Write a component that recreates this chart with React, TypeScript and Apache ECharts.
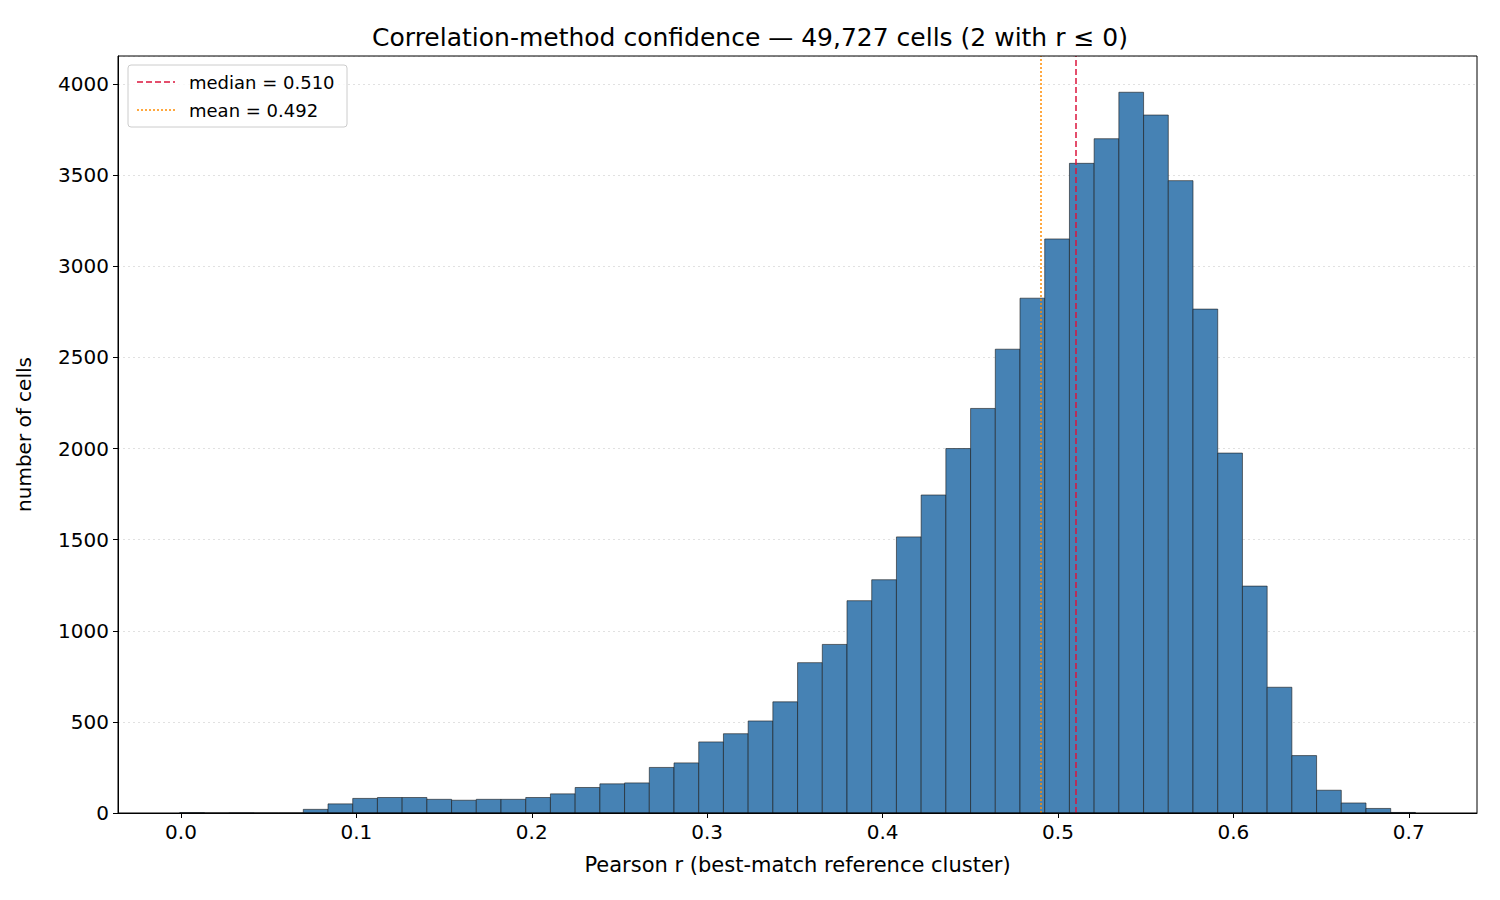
import React, { useEffect, useRef } from 'react';
import * as echarts from 'echarts';

const binStart = -0.0007;
const binWidth = 0.01409;
const counts = [
  2, 0, 1, 0, 0, 20, 50, 80, 85, 85,
  75, 70, 75, 75, 85, 105, 140, 160, 165, 250,
  275, 390, 435, 505, 610, 825, 925, 1165, 1280, 1515,
  1745, 2000, 2220, 2545, 2825, 3150, 3565, 3700, 3955, 3830,
  3470, 2765, 1975, 1245, 690, 315, 125, 55, 25, 3,
];
const xTicks = [0, 0.1, 0.2, 0.3, 0.4, 0.5, 0.6, 0.7];
const medianValue = 0.5102;
const meanValue = 0.4925;

const font = 'DejaVu Sans';

const App: React.FC = () => {
  const chartRef = useRef<HTMLDivElement>(null);

  useEffect(() => {
    if (!chartRef.current) return;
    const chart = echarts.init(chartRef.current, null, { renderer: 'svg' });
    const data = counts.map((c, i) => [binStart + i * binWidth, binStart + (i + 1) * binWidth, c]);

    const option: echarts.EChartsOption = {
      animation: false,
      backgroundColor: '#ffffff',
      title: {
        text: 'Correlation-method confidence — 49,727 cells (2 with r ≤ 0)',
        left: 'center',
        top: 20,
        textStyle: { fontFamily: font, fontSize: 25, fontWeight: 'normal', color: '#000' },
      },
      grid: { left: 118, right: 23, top: 56, bottom: 87 },
      xAxis: {
        type: 'value',
        min: -0.0359,
        max: 0.7389,
        name: 'Pearson r (best-match reference cluster)',
        nameLocation: 'middle',
        nameGap: 41,
        nameTextStyle: { fontFamily: font, fontSize: 21, color: '#000' },
        axisLine: { onZero: false, lineStyle: { color: '#000' } },
        axisTick: { customValues: xTicks, length: 5, lineStyle: { color: '#000' } },
        axisLabel: {
          customValues: xTicks,
          fontFamily: font,
          fontSize: 20,
          color: '#000',
          margin: 9,
          formatter: (v: number) => v.toFixed(1),
        },
        splitLine: { show: false },
      },
      yAxis: {
        type: 'value',
        min: 0,
        max: 4154,
        interval: 500,
        name: 'number of cells',
        nameLocation: 'middle',
        nameGap: 84,
        nameTextStyle: { fontFamily: font, fontSize: 20, color: '#000' },
        axisLine: { show: true, onZero: false, lineStyle: { color: '#000' } },
        axisTick: { show: true, length: 5, lineStyle: { color: '#000' } },
        axisLabel: {
          fontFamily: font,
          fontSize: 20,
          color: '#000',
          margin: 9,
          showMaxLabel: false,
          formatter: (v: number) => String(v),
        },
        splitLine: { lineStyle: { color: '#d9d9d9', type: [2, 3], width: 0.8 } },
      },
      series: [
        {
          type: 'custom',
          data,
          renderItem: (params: any, api: any) => {
            const p0 = api.coord([api.value(0), 0]);
            const p1 = api.coord([api.value(1), api.value(2)]);
            return {
              type: 'rect',
              shape: { x: p0[0], y: p1[1], width: p1[0] - p0[0], height: p0[1] - p1[1] },
              style: { fill: '#4682b4', stroke: '#1a1a1a', lineWidth: 0.6 },
            };
          },
          encode: { x: [0, 1], y: 2 },
          z: 2,
        },
        {
          type: 'line',
          data: [],
          markLine: {
            silent: true,
            symbol: 'none',
            label: { show: false },
            data: [
              { xAxis: medianValue, lineStyle: { color: '#dc143c', type: [6, 3], width: 1.5 } },
              { xAxis: meanValue, lineStyle: { color: '#ff8c00', type: [2, 2], width: 1.5 } },
            ],
          },
          z: 5,
        },
      ],
      graphic: [
        {
          type: 'rect',
          shape: { x: 128, y: 65, width: 219, height: 62, r: 3 },
          style: { fill: 'rgba(255,255,255,0.8)', stroke: '#cccccc', lineWidth: 1 },
          z: 10,
        },
        {
          type: 'line',
          shape: { x1: 137, y1: 82, x2: 175, y2: 82 },
          style: { stroke: '#dc143c', lineWidth: 1.5, lineDash: [6, 3] },
          z: 11,
        },
        {
          type: 'text',
          x: 189,
          y: 82,
          style: { text: 'median = 0.510', fontFamily: font, fontSize: 18, fill: '#000', verticalAlign: 'middle' },
          z: 11,
        },
        {
          type: 'line',
          shape: { x1: 137, y1: 110, x2: 175, y2: 110 },
          style: { stroke: '#ff8c00', lineWidth: 1.5, lineDash: [2, 2] },
          z: 11,
        },
        {
          type: 'text',
          x: 189,
          y: 110,
          style: { text: 'mean = 0.492', fontFamily: font, fontSize: 18, fill: '#000', verticalAlign: 'middle' },
          z: 11,
        },
        {
          type: 'rect',
          shape: { x: 118, y: 56, width: 1359, height: 757 },
          style: { fill: 'none', stroke: '#000', lineWidth: 1 },
          z: 12,
          silent: true,
        },
      ],
    };

    chart.setOption(option);
    return () => chart.dispose();
  }, []);

  return (
    <div
      ref={chartRef}
      style={{ position: 'absolute', left: 0, top: 0, width: '1500px', height: '900px' }}
    />
  );
};

export default App;
